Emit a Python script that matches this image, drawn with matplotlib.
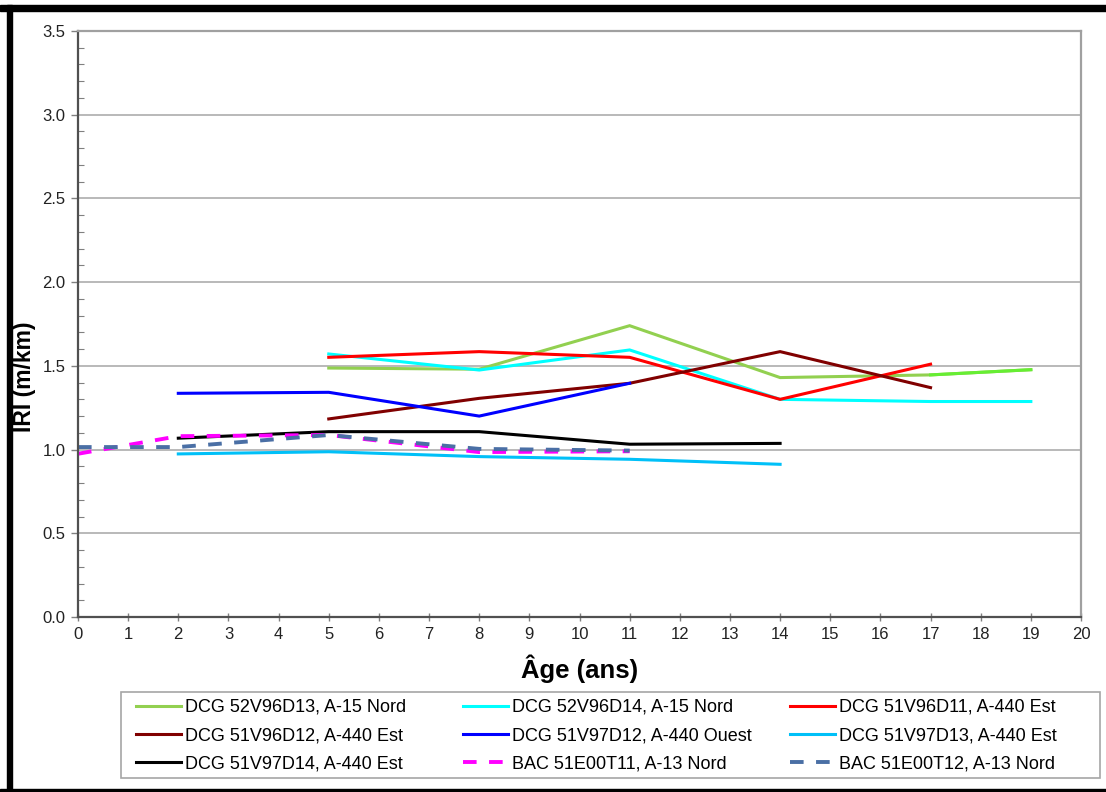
import matplotlib.pyplot as plt
from matplotlib.patches import Rectangle
from matplotlib.ticker import MultipleLocator

plt.rcParams['font.family'] = ['Liberation Sans', 'DejaVu Sans']

# IRI (m/km) by pavement age (years), one series per section
labels = [
    "DCG 52V96D13, A-15 Nord",
    "DCG 52V96D14, A-15 Nord",
    "DCG 51V96D11, A-440 Est",
    "DCG 51V96D12, A-440 Est",
    "DCG 51V97D12, A-440 Ouest",
    "DCG 51V97D13, A-440 Est",
    "DCG 51V97D14, A-440 Est",
    "BAC 51E00T11, A-13 Nord",
    "BAC 51E00T12, A-13 Nord",
]

age_52v96d13 = [5, 8, 11, 14, 17, 19]
iri_52v96d13 = [1.487, 1.48, 1.74, 1.43, 1.446, 1.477]

age_52v96d14 = [5, 8, 11, 14, 17, 19]
iri_52v96d14 = [1.571, 1.475, 1.595, 1.30, 1.287, 1.287]

age_51v96d11 = [5, 8, 11, 14, 17]
iri_51v96d11 = [1.551, 1.585, 1.551, 1.30, 1.51]

age_51v96d12 = [5, 8, 11, 14, 17]
iri_51v96d12 = [1.183, 1.306, 1.396, 1.585, 1.37]

age_51v97d12 = [2, 5, 8, 11]
iri_51v97d12 = [1.336, 1.342, 1.20, 1.396]

age_51v97d13 = [2, 5, 8, 11, 14]
iri_51v97d13 = [0.974, 0.987, 0.958, 0.942, 0.912]

age_51v97d14 = [2, 5, 8, 11, 14]
iri_51v97d14 = [1.068, 1.107, 1.107, 1.032, 1.037]

age_51e00t11 = [0, 2, 5, 8, 11]
iri_51e00t11 = [0.975, 1.08, 1.087, 0.985, 0.99]

age_51e00t12 = [0, 2, 5, 8, 11]
iri_51e00t12 = [1.015, 1.015, 1.087, 1.004, 0.994]

series = [
    (age_52v96d13, iri_52v96d13, '#92D050', '-'),
    (age_52v96d14, iri_52v96d14, '#00FFFF', '-'),
    (age_51v96d11, iri_51v96d11, '#FF0000', '-'),
    (age_51v96d12, iri_51v96d12, '#800000', '-'),
    (age_51v97d12, iri_51v97d12, '#0000FF', '-'),
    (age_51v97d13, iri_51v97d13, '#00C0F8', '-'),
    (age_51v97d14, iri_51v97d14, '#000000', '-'),
    (age_51e00t11, iri_51e00t11, '#FF00FF', '--'),
    (age_51e00t12, iri_51e00t12, '#4A6FA5', '--'),
]

W, H = 1106, 792
fig = plt.figure(figsize=(W / 100, H / 100), dpi=100)
ax = fig.add_axes([78 / W, 175 / H, 1003 / W, 586 / H])

handles = []
for (x, y, c, ls), lab in zip(series, labels):
    if ls == '--':
        h, = ax.plot(x, y, color=c, lw=2.8, dashes=(3.5, 3.2), label=lab,
                     solid_capstyle='butt', dash_capstyle='butt')
    else:
        h, = ax.plot(x, y, color=c, lw=2.2, label=lab, solid_joinstyle='miter')
    handles.append(h)

# last stretch of the A-15 Nord section is drawn in a brighter green
ax.plot(age_52v96d13[-2:], iri_52v96d13[-2:], color='#66EE33', lw=2.2, zorder=2.1)

ax.set_xlim(0, 20)
ax.set_ylim(0, 3.5)
ax.xaxis.set_major_locator(MultipleLocator(1))
ax.yaxis.set_major_locator(MultipleLocator(0.5))
ax.yaxis.set_minor_locator(MultipleLocator(0.1))
ax.yaxis.set_major_formatter(plt.FormatStrFormatter('%.1f'))
ax.grid(axis='y', which='major', color='#A6A6A6', lw=1.1)
ax.set_axisbelow(True)

ax.tick_params(axis='both', which='major', direction='out', length=5, width=1,
               color='#808080', labelsize=12, labelcolor='#222222', pad=4)
ax.tick_params(axis='y', which='minor', direction='in', length=4, width=0.8,
               color='#808080')
ax.tick_params(axis='x', which='major', direction='inout', length=6)

for side in ('left', 'bottom'):
    ax.spines[side].set_color('#505050')
    ax.spines[side].set_linewidth(1.6)
for side in ('top', 'right'):
    ax.spines[side].set_color('#A0A0A0')
    ax.spines[side].set_linewidth(1.6)

ax.set_xlabel("Âge (ans)", fontsize=18.5, fontweight='bold', labelpad=9)
ax.set_ylabel("IRI (m/km)", fontsize=16.5, fontweight='bold')
ax.yaxis.label.set_va('center')
ax.yaxis.set_label_coords((25 - 78) / 1003, 0.41)

# legend: three equal-width columns, filled row by row
fig.patches.append(Rectangle((121 / W, 14 / H), 979 / W, 86 / H,
                             transform=fig.transFigure, facecolor='white',
                             edgecolor='#A6A6A6', lw=1.2, zorder=1))
col_left = [136, 463, 790]
for k in range(3):
    idx = [k, k + 3, k + 6]
    leg = fig.legend([handles[i] for i in idx], [labels[i] for i in idx],
                     loc='upper left', bbox_to_anchor=(col_left[k] / W, 93 / H),
                     fontsize=13, frameon=False, handlelength=2.5,
                     handletextpad=0.2, borderpad=0, borderaxespad=0,
                     labelspacing=0.62)
    leg.set_zorder(2)

# black frame strips along the page edges
for x0, y0, w, h in [(7, 0, 5, 787), (0, 781, W, 6), (0, 0, W, 3)]:
    fig.patches.append(Rectangle((x0 / W, y0 / H), w / W, h / H,
                                 transform=fig.transFigure, color='black',
                                 zorder=10))

fig.savefig('out.png', dpi=100)
